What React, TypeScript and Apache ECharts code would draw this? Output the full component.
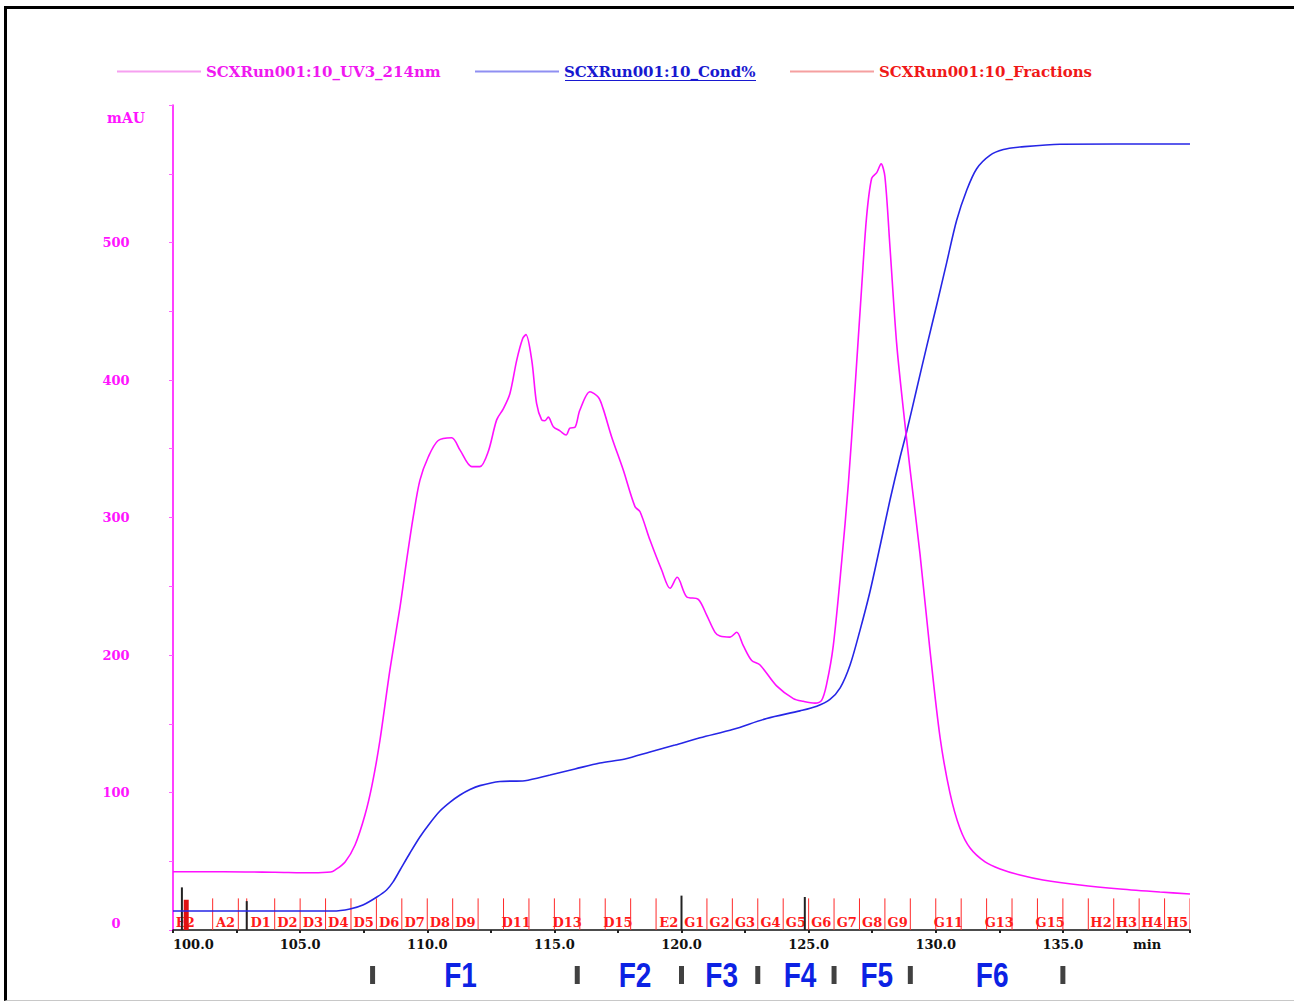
import React, { useEffect, useRef } from "react";
import * as echarts from "echarts";

// ---- UV 214 nm trace (time in min, absorbance in mAU)
const uvTime = [100.0, 102.0, 104.0, 105.5, 106.2, 106.37, 106.77, 107.16, 107.55, 107.83, 108.14, 108.53, 108.93, 109.19, 109.45, 109.71, 110.04, 110.43, 110.96, 111.29, 111.75, 112.07, 112.4, 112.73, 112.99, 113.25, 113.52, 113.75, 113.88, 114.11, 114.3, 114.5, 114.63, 114.76, 114.96, 115.22, 115.46, 115.61, 115.81, 116.0, 116.4, 116.73, 116.92, 117.25, 117.71, 118.17, 118.37, 118.76, 119.22, 119.55, 119.83, 120.2, 120.66, 120.99, 121.32, 121.51, 121.91, 122.17, 122.43, 122.76, 123.09, 123.74, 124.4, 124.79, 125.25, 125.51, 125.71, 125.97, 126.3, 126.56, 126.82, 127.09, 127.28, 127.48, 127.68, 127.85, 128.0, 128.2, 128.46, 128.72, 128.99, 129.38, 129.77, 130.17, 130.56, 130.95, 131.35, 131.94, 132.53, 133.31, 134.22, 135.67, 137.25, 138.82, 140.0];
const uvValue = [42.4, 42.4, 42.0, 41.6, 42.2, 43.6, 49.5, 61.8, 83.6, 105.5, 138, 189, 235, 269, 300.6, 327, 344, 356, 358, 349, 337, 337, 348, 371, 379, 390, 414.5, 430, 433, 414.5, 383, 371, 370.4, 373, 366, 363, 360, 365, 365.6, 378, 391.5, 387.4, 379, 358.8, 334.5, 307.9, 304.2, 283.6, 261.8, 248.5, 256.5, 242.4, 240.5, 229, 216.5, 213.8, 213, 216.5, 206.8, 196, 192.7, 177.5, 168.3, 166.3, 165, 167, 179, 206.8, 268, 323.8, 393, 468.7, 518.8, 546.7, 550.8, 557.2, 548, 496.5, 427, 379.5, 335, 273.6, 204, 140, 99.6, 74, 59.6, 49.5, 44.4, 40, 36.4, 32.7, 29.8, 27.6, 26.2];

// ---- Conductivity trace (time in min, Cond %)
const condTime = [100.0, 106.29, 106.96, 107.47, 108.02, 108.4, 108.65, 108.93, 109.32, 109.71, 110.11, 110.5, 110.9, 111.29, 111.68, 112.07, 112.86, 113.84, 114.83, 115.81, 116.79, 117.78, 118.76, 119.74, 120.73, 122.04, 123.35, 124.66, 125.32, 125.84, 126.24, 126.63, 127.02, 127.41, 127.81, 128.2, 128.59, 128.86, 129.25, 129.64, 130.04, 130.43, 130.82, 131.22, 131.61, 132.13, 132.66, 133.31, 134.89, 140.0];
const condValue = [2.3, 2.3, 2.55, 3.03, 4.0, 4.85, 5.8, 7.27, 9.33, 11.27, 12.97, 14.42, 15.5, 16.36, 17.03, 17.5, 18.0, 18.1, 18.79, 19.52, 20.24, 20.73, 21.58, 22.42, 23.3, 24.33, 25.64, 26.56, 27.12, 27.95, 29.35, 32.12, 36.32, 40.97, 46.55, 52.12, 57.21, 60.46, 65.58, 70.68, 75.79, 80.9, 86.0, 89.7, 92.28, 93.9, 94.6, 94.9, 95.25, 95.27];

// ---- Fractions (start time of each tube, label; last one ends at fracEnd)
const fracStart = [99.4, 101.56, 102.57, 102.9, 104, 105, 106, 107, 108, 109, 110, 111, 112, 113, 114, 115, 116, 117, 118, 119, 120, 121, 122, 123, 124, 125, 126, 127, 128, 129, 130, 131, 132, 133, 134, 135, 136, 137, 138, 139];
const fracLabel = ["E2", "A2", "", "D1", "D2", "D3", "D4", "D5", "D6", "D7", "D8", "D9", "", "D11", "", "D13", "", "D15", "", "E2", "G1", "G2", "G3", "G4", "G5", "G6", "G7", "G8", "G9", "", "G11", "", "G13", "", "G15", "", "H2", "H3", "H4", "H5"];
const fracEnd = 140;

// ---- Event marks (black) and fraction-start mark (red)
const eventTime = [100.35, 102.9, 120.0, 124.85];
const eventHeight = [31, 21, 25, 24];
const fracMarkTime = [100.52];
const fracMarkHeight = [22];

// ---- Pooled fraction annotations below the axis
const cutTime = [107.85, 115.9, 120.0, 123.0, 126.0, 129.0, 135.0];
const poolName = ["F1", "F2", "F3", "F4", "F5", "F6"];
const poolTime = [111.31, 118.17, 121.58, 124.66, 127.68, 132.22];

// ---- Axis ticks
const xMin = 100, xMax = 140, xStep = 2.5, xLabelStep = 5;
const yMin = 0, yMax = 600, yStep = 50, yLabelStep = 100;

const UV_NAME = "SCXRun001:10_UV3_214nm";
const COND_NAME = "SCXRun001:10_Cond%";
const FRAC_NAME = "SCXRun001:10_Fractions";

const SERIF = "DejaVu Serif";

export default function App() {
  const ref = useRef<HTMLDivElement>(null);

  useEffect(() => {
    if (!ref.current) return;
    const chart = echarts.init(ref.current, null, { renderer: "svg" });

    const legendText = (color: string) => ({
      color,
      fontFamily: SERIF,
      fontWeight: "bold",
      fontSize: 15,
    });
    const legendBase = {
      top: 64,
      padding: 0,
      orient: "horizontal",
      icon: "rect",
      itemWidth: 84,
      itemHeight: 2,
      selectedMode: false,
    };

    const option: any = {
      animation: false,
      backgroundColor: "transparent",
      legend: [
        { ...legendBase, left: 117, data: [{ name: UV_NAME, itemStyle: { color: "#f6a0f0" }, textStyle: legendText("#f018f0") }] },
        { ...legendBase, left: 475, data: [{ name: COND_NAME, itemStyle: { color: "#8f8ff2" }, textStyle: legendText("#1818d0") }] },
        { ...legendBase, left: 790, data: [{ name: FRAC_NAME, itemStyle: { color: "#f5a0a0" }, textStyle: legendText("#f01818") }] },
      ],
      graphic: [
        { type: "rect", left: 565, top: 80, shape: { width: 191, height: 1 }, style: { fill: "#1818d0" }, silent: true },
      ],
      grid: [
        { left: 173, right: 104, top: 105, height: 825 },
        { left: 173, right: 104, top: 955, height: 40 },
      ],
      xAxis: [
        {
          type: "value",
          gridIndex: 0,
          min: xMin,
          max: xMax,
          interval: xStep,
          name: "min",
          nameLocation: "end",
          nameGap: -57,
          nameTextStyle: {
            color: "#111",
            fontFamily: SERIF,
            fontWeight: "bold",
            fontSize: 13,
            align: "left",
            verticalAlign: "top",
            padding: [8, 0, 0, 0],
          },
          axisLine: { show: true, onZero: false, lineStyle: { color: "#111", width: 1.5 } },
          axisTick: { show: true, length: 3, lineStyle: { color: "#222", width: 2 } },
          splitLine: { show: false },
          axisLabel: {
            margin: 8,
            color: "#111",
            fontFamily: SERIF,
            fontWeight: "bold",
            fontSize: 13,
            alignMinLabel: "left",
            formatter: (v: number) =>
              Math.abs(v / xLabelStep - Math.round(v / xLabelStep)) < 1e-6 && v < xMax ? v.toFixed(1) : "",
          },
        },
        { type: "value", gridIndex: 1, min: xMin, max: xMax, show: false },
      ],
      yAxis: [
        {
          type: "value",
          gridIndex: 0,
          min: yMin,
          max: yMax,
          interval: yStep,
          name: "mAU",
          nameLocation: "end",
          nameGap: -13,
          nameTextStyle: {
            color: "#ff14ff",
            fontFamily: SERIF,
            fontWeight: "bold",
            fontSize: 14,
            align: "right",
            verticalAlign: "middle",
            padding: [0, 28, 0, 0],
          },
          axisLine: { show: true, lineStyle: { color: "#ff00ff", width: 1.5 } },
          axisTick: { show: true, length: 4, lineStyle: { color: "#ff60ff", width: 1 } },
          splitLine: { show: false },
          axisLabel: {
            margin: 57,
            align: "center",
            verticalAlignMinLabel: "bottom",
            color: "#ff14ff",
            fontFamily: SERIF,
            fontWeight: "bold",
            fontSize: 13,
            formatter: (v: number) => (v % yLabelStep === 0 && v < yMax ? String(v) : ""),
          },
        },
        { type: "value", gridIndex: 0, min: 0, max: 100, show: false },
        { type: "value", gridIndex: 1, min: 0, max: 1, show: false },
      ],
      series: [
        {
          name: FRAC_NAME,
          type: "custom",
          xAxisIndex: 0,
          yAxisIndex: 0,
          clip: true,
          z: 2,
          encode: { x: [0, 1] },
          data: fracStart.map((s, i) => [s, i + 1 < fracStart.length ? fracStart[i + 1] : fracEnd, i]),
          renderItem: (params: any, api: any) => {
            const s = api.value(0);
            const e = api.value(1);
            const idx = api.value(2);
            const base = api.coord([s, 0]);
            const top = api.coord([s, 23]);
            const children: any[] = [
              {
                type: "line",
                shape: { x1: base[0], y1: base[1], x2: top[0], y2: top[1] },
                style: { stroke: "#ff2a2a", lineWidth: 1 },
              },
            ];
            if (idx === fracStart.length - 1) {
              const b2 = api.coord([e, 0]);
              const t2 = api.coord([e, 23]);
              children.push({
                type: "line",
                shape: { x1: b2[0], y1: b2[1], x2: t2[0], y2: t2[1] },
                style: { stroke: "#ff2a2a", lineWidth: 1 },
              });
            }
            const label = fracLabel[idx];
            if (label) {
              const c = api.coord([(s + e) / 2, 0]);
              children.push({
                type: "text",
                x: c[0],
                y: c[1] - 8,
                style: {
                  text: label,
                  fill: "#ff1a1a",
                  fontFamily: SERIF,
                  fontWeight: "bold",
                  fontSize: 13,
                  align: "center",
                  verticalAlign: "middle",
                },
              });
            }
            return { type: "group", children };
          },
        },
        {
          name: "marks",
          type: "custom",
          xAxisIndex: 0,
          yAxisIndex: 0,
          clip: true,
          z: 3,
          encode: { x: 0, y: 1 },
          data: [
            ...fracMarkTime.map((t, i) => [t, fracMarkHeight[i], 1]),
            ...eventTime.map((t, i) => [t, eventHeight[i], 0]),
          ],
          renderItem: (params: any, api: any) => {
            const t = api.value(0);
            const h = api.value(1);
            const red = api.value(2) === 1;
            const b = api.coord([t, 0]);
            const tp = api.coord([t, h]);
            return {
              type: "line",
              shape: { x1: b[0], y1: b[1], x2: tp[0], y2: tp[1] },
              style: { stroke: red ? "#e01010" : "#222", lineWidth: red ? 5 : 2 },
            };
          },
        },
        {
          name: COND_NAME,
          type: "line",
          xAxisIndex: 0,
          yAxisIndex: 1,
          data: condTime.map((t, i) => [t, condValue[i]]),
          showSymbol: false,
          smooth: 0.3,
          z: 4,
          lineStyle: { color: "#2626e6", width: 1.6 },
          itemStyle: { color: "#2626e6" },
        },
        {
          name: UV_NAME,
          type: "line",
          xAxisIndex: 0,
          yAxisIndex: 0,
          data: uvTime.map((t, i) => [t, uvValue[i]]),
          showSymbol: false,
          smooth: 0.3,
          z: 5,
          lineStyle: { color: "#ff10ff", width: 1.6 },
          itemStyle: { color: "#ff10ff" },
        },
        {
          name: "cuts",
          type: "scatter",
          xAxisIndex: 1,
          yAxisIndex: 2,
          symbol: "rect",
          symbolSize: [5, 18],
          itemStyle: { color: "#111" },
          data: cutTime.map((t) => [t, 0.5]),
        },
        {
          name: "pools",
          type: "custom",
          xAxisIndex: 1,
          yAxisIndex: 2,
          encode: { x: 0, y: 1 },
          data: poolTime.map((t, i) => [t, 0.5, i]),
          renderItem: (params: any, api: any) => {
            const p = api.coord([api.value(0), api.value(1)]);
            return {
              type: "text",
              x: p[0],
              y: p[1],
              scaleX: 0.8,
              style: {
                text: poolName[api.value(2)],
                fill: "#0c22e4",
                fontFamily: "Liberation Sans",
                fontWeight: "bold",
                fontSize: 35,
                align: "center",
                verticalAlign: "middle",
              },
            };
          },
        },
      ],
    };

    chart.setOption(option);
    return () => chart.dispose();
  }, []);

  return (
    <div style={{ position: "absolute", left: 0, top: 0, width: 1294, height: 1001, background: "#fff", overflow: "hidden" }}>
      <div
        style={{
          position: "absolute",
          left: 4,
          top: 6,
          right: 0,
          height: 991,
          borderLeft: "3px solid #000",
          borderTop: "3px solid #000",
          borderBottom: "1px solid #c8c8c8",
        }}
      />
      <div ref={ref} style={{ position: "absolute", left: 0, top: 0, width: 1294, height: 1001 }} />
    </div>
  );
}
